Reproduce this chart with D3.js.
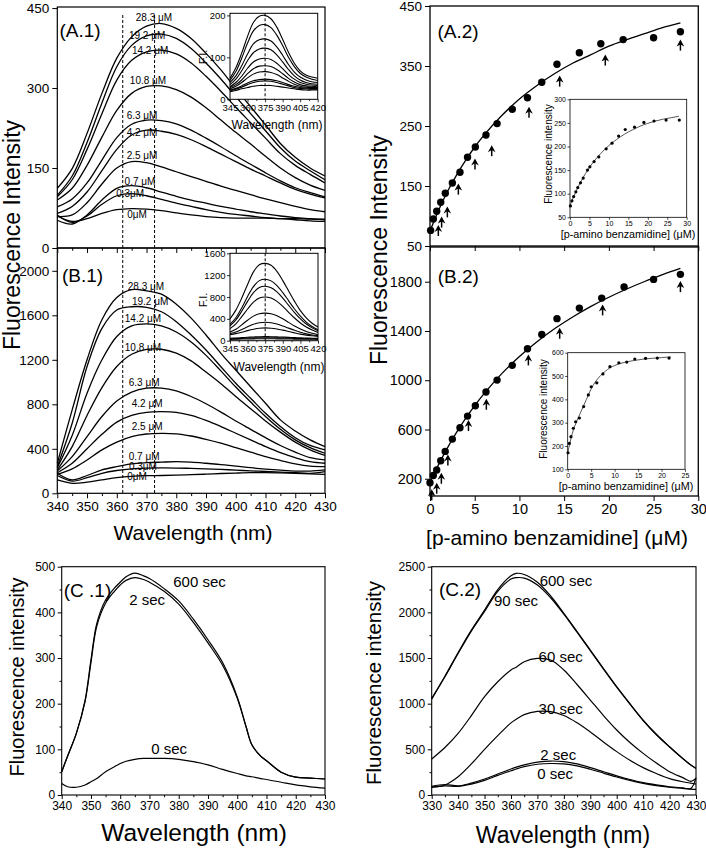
<!DOCTYPE html>
<html lang="en">
<head>
<meta charset="UTF-8">
<title>Fluorescence titration</title>
<script src="https://d3js.org/d3.v7.min.js"></script>
<style>
  body { margin: 0; background: #fff; }
  svg { display: block; font-family: "Liberation Sans", Arial, sans-serif; }
</style>
</head>
<body>
<svg id="chart" width="706" height="849"></svg>
<script>
// ---------- data ----------
const specWave = [340,345,350,355,360,365,370,375,380,385,390,395,400,405,410,415,420,425,430];
const concLabels = ["28.3 μM","19.2 μM","14.2 μM","10.8 μM","6.3 μM","4.2 μM","2.5 μM","0.7 μM","0.3μM","0μM"];

const a1Spectra = [
  [112,149,215,290,356,396,416,421,412,393,365,334,299,265,231,196,170,150,135],
  [99,135,198,272,340,380,398,401,393,374,347,317,284,252,220,188,163,145,128],
  [96,128,185,252,315,352,368,371,364,347,322,294,264,235,206,177,155,138,122],
  [90,112,155,208,258,290,303,304,297,283,263,240,217,195,172,150,132,118,108],
  [77,92,122,165,207,232,240,239,233,221,206,190,173,157,141,126,113,104,96],
  [65,78,105,145,185,212,221,219,213,203,190,176,162,148,135,122,110,101,94],
  [59,62,85,120,150,162,160,152,143,134,125,116,108,100,92,85,78,72,68],
  [52,45,62,90,112,117,113,105,97,90,84,78,73,68,64,60,57,55,53],
  [62,48,60,82,98,102,98,91,84,78,72,67,63,60,57,55,53,51,50],
  [60,50,55,65,72,74,73,70,66,62,59,57,56,56,56,55,55,54,54]
];
const a1LabelPos = [[372.5,433],[370.2,399],[371.2,371],[370.5,315],[368.5,249],[368.5,216],[368.5,174],[367.8,124],[364.5,103],[366.8,62]];

const b1Spectra = [
  [270,750,1200,1560,1760,1830,1820,1790,1700,1575,1423,1258,1108,958,809,660,560,480,420],
  [240,630,1140,1483,1648,1677,1672,1632,1543,1423,1288,1138,989,854,719,600,500,430,390],
  [230,520,900,1200,1410,1505,1523,1505,1450,1360,1240,1100,955,820,690,575,480,410,360],
  [210,420,700,950,1140,1250,1293,1295,1260,1190,1090,985,870,760,650,550,460,390,340],
  [200,330,510,690,830,910,945,945,920,870,805,730,650,575,500,430,370,320,300],
  [185,270,400,530,640,700,728,734,728,700,655,600,540,480,420,365,320,285,270],
  [170,220,300,390,460,510,533,539,535,515,485,450,410,370,330,295,265,245,240],
  [180,120,160,210,240,265,275,280,284,280,270,258,245,230,218,208,200,200,210],
  [160,110,140,180,205,220,226,228,227,224,220,215,208,202,196,190,185,180,195],
  [120,90,100,120,140,152,158,160,163,168,172,178,182,185,185,183,180,175,170]
];
const b1LabelPos = [[369.8,1856],[371.2,1722],[368.8,1573],[368.8,1309],[369.2,994],[370.2,803],[370.2,599],[369.2,329],[368.8,245],[366.8,149]];

const dashWave = [362, 372.7];

// inset spectra (difference spectra)
const insetWave = [345,350,355,360,365,370,375,380,385,390,395,400,405,410,415,420];
const a1Inset = [
  [50,75,110,150,183,198,200,192,172,143,112,86,68,58,53,50],
  [45,66,98,134,163,176,178,171,153,128,100,78,62,53,48,45],
  [40,56,80,108,132,142,144,139,125,105,83,65,53,46,42,40],
  [35,48,68,92,111,120,122,118,106,89,71,56,46,40,37,36],
  [30,40,55,74,89,96,98,95,86,73,59,48,40,36,34,33],
  [28,35,46,61,73,79,80,78,71,61,50,41,35,32,31,30],
  [25,31,40,51,60,65,66,64,59,51,43,36,31,29,28,28],
  [22,26,32,39,44,47,48,47,44,40,35,31,28,27,26,26],
  [20,24,29,35,40,43,44,43,40,36,32,28,26,25,24,24],
  [18,21,25,28,31,33,33,33,31,29,27,25,23,22,22,22]
];
const b1Inset = [
  [400,560,780,1030,1260,1390,1415,1380,1270,1100,910,720,550,420,320,250],
  [300,420,600,810,990,1100,1126,1095,1010,880,730,580,450,340,260,200],
  [270,380,540,720,880,975,997,970,895,780,645,515,400,305,235,180],
  [220,310,440,580,705,780,800,780,720,630,520,415,325,250,195,150],
  [160,210,290,375,450,495,505,492,455,400,335,270,215,170,135,110],
  [130,160,205,255,300,330,338,330,305,270,230,190,155,125,105,90],
  [110,130,155,185,210,228,234,229,215,193,168,143,120,102,90,80],
  [45,50,56,63,69,73,74,73,70,66,61,56,52,48,45,43],
  [35,38,42,47,51,54,55,54,52,49,46,42,39,37,35,34],
  [25,27,30,32,34,35,35,35,34,33,31,29,28,27,26,25]
];

// A.2 titration
const a2Conc = [0.07,0.37,0.75,1.2,1.71,2.5,3.35,4.2,5.07,6.26,7.5,9.2,10.9,12.5,14.2,16.7,19.1,21.6,25,28];
const a2Fi = [76,95,108,123,138,155,173,198,215,235,254,278,297,323,353,372,387,394,397,407];
const a2ArrowConc = [0.93,1.3,1.94,3.17,5.03,6.9,11.07,14.5,19.6,28];
const a2ArrowFi = [85,99,116,154,196,218,282,334,369,394];
const a2FitConc = [0,1,2,3,4,5,6,8,10,12,14,16,18,20,22,24,26,28];
const a2FitFi = [75,111,142,169,193,215,234,267,295,318,338,355,369,383,394,404,414,422];
const a2InConc = [0.1,0.5,0.94,1.5,2,2.7,3.4,4.5,5.1,6.2,7.4,9.3,10.8,12.5,14.2,16.6,19,21.6,24.7,28.1];
const a2InFi = [74,85,94,104,113,123,133,150,157,168,178,195,207,222,236,241,251,254,256,256];
const a2InFitConc = [0,2,4,6,8,10,12,14,16,18,20,22,24,26,28];
const a2InFitFi = [75,113,143,167,186,202,215,226,235,243,249,254,258,261,264];

// B.2 titration
const b2Conc = [0,0.37,0.75,1.2,1.7,2.5,3.35,4.2,5.07,6.26,7.5,9.2,10.9,12.5,14.2,16.7,19.2,21.7,25,28];
const b2Fi = [168,227,271,346,422,522,614,709,793,904,1001,1121,1256,1372,1500,1586,1667,1757,1819,1860];
const b2ArrowConc = [0.19,0.75,1.27,2.0,4.3,6.3,11,14.5,19.3,28];
const b2ArrowFi = [114,168,249,398,677,850,1210,1426,1616,1805];
const b2FitConc = [0,1,2,3,4,5,6,8,10,12,14,16,18,20,22,24,26,28];
const b2FitFi = [170,321,457,580,692,794,887,1052,1193,1315,1422,1516,1600,1674,1741,1802,1857,1908];
const b2InConc = [0.07,0.35,0.7,1.2,1.7,2.5,3.4,4.4,5.0,6.2,7.5,9.0,10.9,12.6,14.3,16.6,19.1,21.6];
const b2InFi = [171,211,240,276,304,320,369,419,454,471,509,540,557,560,573,576,577,577];
const b2InFitConc = [0,1,2,3,4,5,6,7,8,9,10,12,14,16,18,20,22];
const b2InFitFi = [170,255,310,355,400,445,478,502,520,535,545,558,566,572,576,579,582];

// C.1 time course
const c1Wave = [340,342,345,348,350,352,355,358,360,362,365,368,370,375,380,385,390,395,400,403,405,408,410,415,420,425,430];
const c1Labels = ["600 sec","2 sec","0 sec"];
const c1Spectra = [
  [51,85,135,208,296,376,427,453,466,478,486,480,474,452,425,385,340,290,215,150,110,85,75,50,39,37,35],
  [51,85,135,205,290,370,420,446,460,470,476,472,466,446,418,378,333,284,212,150,110,85,75,50,39,37,35],
  [25,18,17,22,29,36,51,62,69,74,78,80,80,80,78,73,66,56,47,42,40,36,34,28,22,18,15]
];
const c1LabelPos = [[387.1,467],[369.2,428],[376.7,102]];

// C.2 time course
const c2Wave = [330,335,340,345,350,355,360,362,365,370,375,380,385,390,395,400,405,410,415,420,425,428,430];
const c2Labels = ["600 sec","90 sec","60 sec","30 sec","2 sec","0 sec"];
const c2Spectra = [
  [1058,1300,1560,1806,2025,2250,2400,2427,2415,2330,2180,1990,1790,1588,1385,1186,1000,821,665,529,400,330,292],
  [1050,1295,1550,1795,2010,2230,2365,2380,2375,2300,2160,1980,1782,1580,1378,1180,995,816,660,525,398,328,290],
  [394,520,675,870,1077,1240,1369,1400,1460,1496,1478,1369,1210,1040,870,712,575,456,350,255,190,150,180],
  [85,110,200,340,500,650,790,830,880,915,912,870,790,690,580,475,380,300,235,180,145,130,120],
  [95,115,100,130,175,230,285,305,330,360,372,365,340,300,255,210,170,135,110,90,78,70,190],
  [85,100,95,120,160,215,265,285,310,337,345,340,318,282,240,197,160,128,103,85,72,65,62]
];
const c2LabelPos = [[380.8,2350],[361.9,2132],[378.8,1519],[378.8,948],[377.9,437],[376.7,237]];

// ---------- drawing ----------
const FONT = '"Liberation Sans", Arial, sans-serif';
const svg = d3.select("#chart");

function scales(box, xDom, yDom) {
  return {
    x: d3.scaleLinear().domain(xDom).range([box.l, box.r]),
    y: d3.scaleLinear().domain(yDom).range([box.b, box.t])
  };
}

// axes + frame in the Origin / SigmaPlot look: outward ticks, boxed plot
function axes(sc, o) {
  const {x, y} = sc;
  const g = svg.append("g");
  const b = y.range()[0], t = y.range()[1], l = x.range()[0], r = x.range()[1];
  if (o.fill) g.append("rect").attr("x", l).attr("y", t).attr("width", r - l).attr("height", b - t).attr("fill", o.fill);

  const xa = g.append("g").attr("transform", `translate(0,${b})`)
    .call(d3.axisBottom(x).tickValues(o.xTicks).tickSize(o.tick).tickPadding(o.pad).tickSizeOuter(0)
      .tickFormat(o.xLabels === false ? "" : d3.format("d")));
  xa.select(".domain").remove();
  xa.selectAll("text").attr("font-size", o.fs).attr("font-family", FONT).attr("fill", "#000");
  if (o.xMinor) {
    g.append("g").attr("transform", `translate(0,${b})`)
      .call(d3.axisBottom(x).tickValues(o.xMinor).tickSize(o.tick * 0.55).tickFormat(""))
      .select(".domain").remove();
  }
  const ya = g.append("g").attr("transform", `translate(${l},0)`)
    .call(d3.axisLeft(y).tickValues(o.yTicks).tickSize(o.tick).tickPadding(o.pad).tickSizeOuter(0)
      .tickFormat(d3.format("d")));
  ya.select(".domain").remove();
  ya.selectAll("text").attr("font-size", o.fs).attr("font-family", FONT).attr("fill", "#000");
  if (o.yMinor) {
    g.append("g").attr("transform", `translate(${l},0)`)
      .call(d3.axisLeft(y).tickValues(o.yMinor).tickSize(o.tick * 0.55).tickFormat(""))
      .select(".domain").remove();
  }
  g.selectAll(".tick line").attr("stroke", "#000").attr("stroke-width", o.tw || 1);
  g.append("rect").attr("x", l).attr("y", t).attr("width", r - l).attr("height", b - t)
    .attr("fill", "none").attr("stroke", "#000").attr("stroke-width", o.frame || 1.2);
  return g;
}

function spectra(sc, wave, rows, width, curve) {
  const line = d3.line()
    .x((d, i) => sc.x(wave[i]))
    .y(d => sc.y(d))
    .curve(curve || d3.curveCatmullRom.alpha(0.5));
  svg.append("g").selectAll("path").data(rows).join("path")
    .attr("d", line).attr("fill", "none").attr("stroke", "#000").attr("stroke-width", width);
}

function labels(sc, texts, pos, size) {
  svg.append("g").selectAll("text").data(texts).join("text")
    .attr("x", (d, i) => sc.x(pos[i][0]))
    .attr("y", (d, i) => sc.y(pos[i][1]))
    .attr("dy", "0.35em").attr("text-anchor", "middle")
    .attr("font-size", size).attr("font-family", FONT).attr("fill", "#000")
    .text(d => d);
}

function text(x, y, str, size, opts = {}) {
  const t = svg.append("text").attr("x", x).attr("y", y).text(str)
    .attr("font-size", size).attr("font-family", FONT).attr("fill", "#000")
    .attr("text-anchor", opts.anchor || "middle");
  if (opts.rotate) t.attr("transform", `rotate(-90,${x},${y})`);
  return t;
}

function dashes(sc, vals, yTop, yBot) {
  svg.append("g").selectAll("line").data(vals).join("line")
    .attr("x1", d => sc.x(d)).attr("x2", d => sc.x(d))
    .attr("y1", yTop).attr("y2", yBot)
    .attr("stroke", "#000").attr("stroke-width", 1).attr("stroke-dasharray", "3,2");
}

function dots(sc, xs, ys, r) {
  svg.append("g").selectAll("circle").data(xs).join("circle")
    .attr("cx", d => sc.x(d)).attr("cy", (d, i) => sc.y(ys[i])).attr("r", r).attr("fill", "#000");
}

function fitLine(sc, xs, ys, w, color) {
  const line = d3.line().x(d => sc.x(d)).y((d, i) => sc.y(ys[i])).curve(d3.curveMonotoneX);
  svg.append("path").datum(xs).attr("d", line).attr("fill", "none")
    .attr("stroke", color || "#000").attr("stroke-width", w);
}

function arrows(sc, xs, ys) {
  const g = svg.append("g");
  xs.forEach((c, i) => {
    const px = sc.x(c), py = sc.y(ys[i]);
    g.append("line").attr("x1", px).attr("x2", px).attr("y1", py + 2).attr("y2", py + 11)
      .attr("stroke", "#000").attr("stroke-width", 1.5);
    g.append("path").attr("d", `M${px},${py} L${px + 3.8},${py + 7} L${px},${py + 4.8} L${px - 3.8},${py + 7} Z`)
      .attr("fill", "#000");
  });
}

const topOpts = {tick: 5, pad: 3, fs: 13.5};

// ---- A.1 ----
const a1 = scales({l: 57.3, r: 325, t: 7, b: 248}, [340, 430], [0, 452]);
axes(a1, {...topOpts, xTicks: d3.range(340, 431, 10), xMinor: d3.range(345, 430, 10), xLabels: false, yTicks: [0, 150, 300, 450]});
spectra(a1, specWave, a1Spectra, 1.3);
labels(a1, concLabels, a1LabelPos, 10);

// ---- B.1 ----
const b1 = scales({l: 57.3, r: 325, t: 248, b: 493.3}, [340, 430], [0, 2205]);
axes(b1, {...topOpts, xTicks: d3.range(340, 431, 10), xMinor: d3.range(345, 430, 10), yTicks: [0, 400, 800, 1200, 1600, 2000]});
spectra(b1, specWave, b1Spectra, 1.3);
labels(b1, concLabels, b1LabelPos, 10);
dashes(a1, dashWave, 15, 493);

text(80, 30, "(A.1)", 19).attr("dy", "0.35em");
text(82.5, 275, "(B.1)", 19).attr("dy", "0.35em");

// insets on the spectra
const insetOpts = {tick: 3, pad: 1.5, fs: 9.5, tw: 0.8, frame: 1, fill: "#fff"};
const a1i = scales({l: 230, r: 317.7, t: 13.3, b: 99.3}, [345, 420], [0, 205]);
axes(a1i, {...insetOpts, xTicks: d3.range(345, 421, 15), xMinor: d3.range(352.5, 420, 15), yTicks: [0, 100, 200]});
spectra(a1i, insetWave, a1Inset, 1.1);
dashes(a1i, [375], 13.3, 99.3);
text(277, 129, "Wavelength (nm)", 12);
text(207, 57, "F.I.", 11, {rotate: true});

const b1i = scales({l: 230, r: 318, t: 253.3, b: 340.7}, [345, 420], [0, 1600]);
axes(b1i, {...insetOpts, xTicks: d3.range(345, 421, 15), xMinor: d3.range(352.5, 420, 15), yTicks: [0, 400, 800, 1200, 1600]});
spectra(b1i, insetWave, b1Inset, 1.1);
dashes(b1i, [375], 253.3, 340.7);
text(279, 371, "Wavelength (nm)", 12);
text(207, 300, "F.I.", 11, {rotate: true});

text(20, 235, "Fluorescence Intensity", 23, {rotate: true});
text(193, 540, "Wavelength (nm)", 21);

// ---- A.2 ----
const a2 = scales({l: 430, r: 698.3, t: 6, b: 246}, [0, 30], [50, 450]);
axes(a2, {...topOpts, xTicks: d3.range(0, 31, 5), xLabels: false, yTicks: [50, 150, 250, 350, 450], frame: 1.3});
fitLine(a2, a2FitConc, a2FitFi, 1.3);
dots(a2, a2Conc, a2Fi, 3.7);
arrows(a2, a2ArrowConc, a2ArrowFi);
text(458, 31.7, "(A.2)", 19).attr("dy", "0.35em");

const sigOpts = {tick: 2.5, pad: 1.5, fs: 7, tw: 0.7, frame: 0.8, fill: "#fff"};
const a2i = scales({l: 570, r: 686.7, t: 99.3, b: 217.3}, [0, 30], [50, 300]);
axes(a2i, {...sigOpts, xTicks: d3.range(0, 31, 5), yTicks: d3.range(50, 301, 50)});
fitLine(a2i, a2InFitConc, a2InFitFi, 0.9, "#444");
dots(a2i, a2InConc, a2InFi, 1.6);
text(628, 238, "[p-amino benzamidine] (μM)", 10.8);
text(552, 154, "Fluorescence intensity", 10, {rotate: true});

// ---- B.2 ----
const b2 = scales({l: 430, r: 698.3, t: 247, b: 496}, [0, 30], [60, 2082]);
axes(b2, {...topOpts, fs: 14.5, xTicks: d3.range(0, 31, 5), yTicks: [200, 600, 1000, 1400, 1800], frame: 1.3});
fitLine(b2, b2FitConc, b2FitFi, 1.3);
dots(b2, b2Conc, b2Fi, 3.7);
arrows(b2, b2ArrowConc, b2ArrowFi);
text(458.3, 276.7, "(B.2)", 19).attr("dy", "0.35em");

const b2i = scales({l: 567.7, r: 685, t: 352.7, b: 469.3}, [0, 25], [100, 600]);
axes(b2i, {...sigOpts, xTicks: d3.range(0, 26, 5), yTicks: d3.range(100, 601, 100)});
fitLine(b2i, b2InFitConc, b2InFitFi, 0.9, "#444");
dots(b2i, b2InConc, b2InFi, 1.6);
text(626, 490, "[p-amino benzamidine] (μM)", 10.8);
text(547, 409, "Fluorescence intensity", 10, {rotate: true});

text(387, 250, "Fluorescence Intensity", 23, {rotate: true});
text(557, 545, "[p-amino benzamidine] (μM)", 21);

// ---- C.1 ----
const cOpts = {tick: 4, pad: 2.5, fs: 12, frame: 1.1};
const c1 = scales({l: 61.7, r: 325, t: 566.7, b: 795}, [340, 430], [0, 500]);
axes(c1, {...cOpts, xTicks: d3.range(340, 431, 10), xMinor: d3.range(345, 430, 10), yTicks: d3.range(0, 501, 100), yMinor: d3.range(50, 500, 100)});
spectra(c1, c1Wave, c1Spectra, 1.2);
labels(c1, c1Labels, c1LabelPos, 15);
text(87.5, 590, "(C .1)", 19).attr("dy", "0.35em");
text(24, 677, "Fluorescence intensity", 20, {rotate: true});
text(194, 841, "Wavelength (nm)", 24.5);

// ---- C.2 ----
const c2 = scales({l: 431.7, r: 696, t: 566.7, b: 795}, [330, 430], [0, 2500]);
axes(c2, {...cOpts, xTicks: d3.range(330, 431, 10), xMinor: d3.range(335, 430, 10), yTicks: d3.range(0, 2501, 500), yMinor: d3.range(250, 2500, 500)});
spectra(c2, c2Wave, c2Spectra, 1.2);
labels(c2, c2Labels, c2LabelPos, 15);
text(460, 589.3, "(C.2)", 19).attr("dy", "0.35em");
text(381, 683, "Fluorescence intensity", 20.5, {rotate: true});
text(563, 843, "Wavelength (nm)", 23);
</script>
</body>
</html>
